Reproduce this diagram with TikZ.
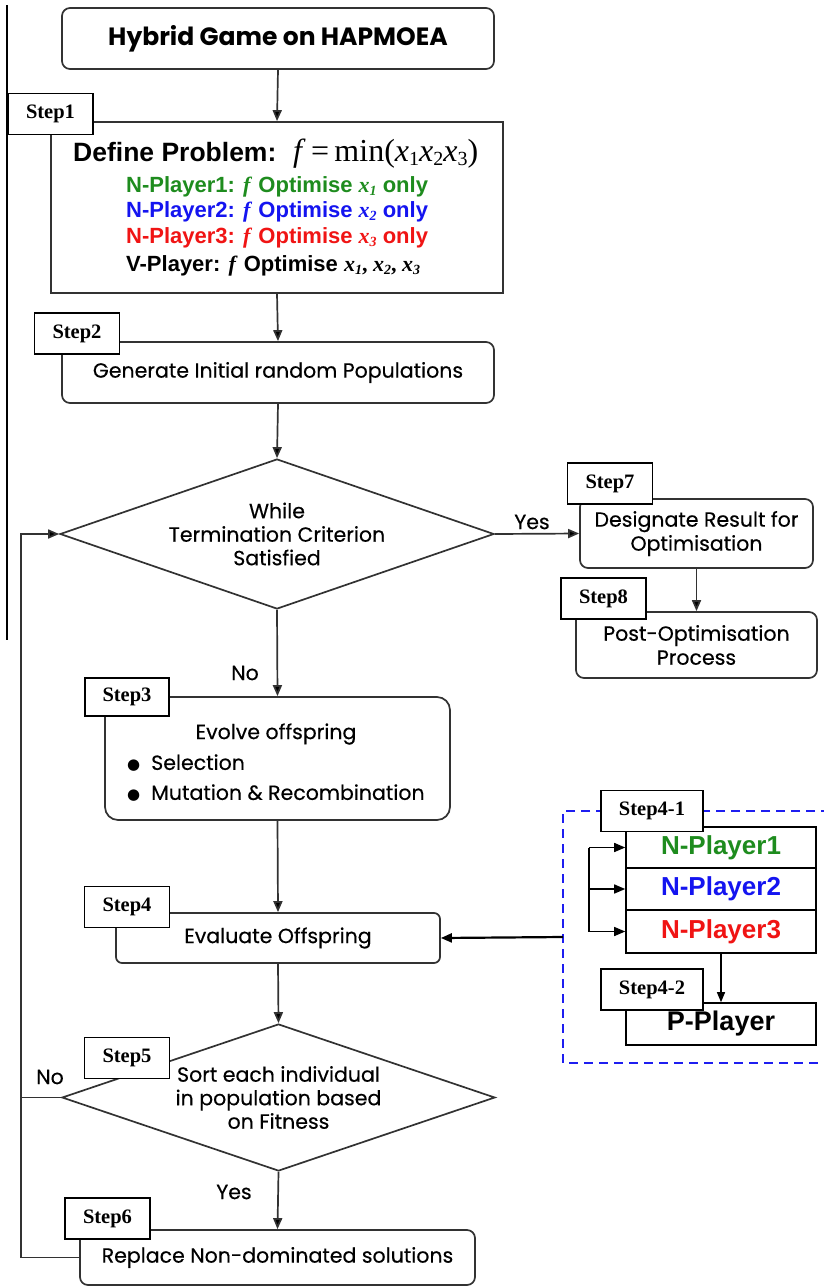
\documentclass[tikz,border=0pt]{standalone}
\usepackage{fontspec}
\setmainfont{Liberation Serif}
\newfontfamily\goth[FakeBold=0.35]{Poppins}
\newfontfamily\gothb{Poppins}
\newfontfamily\arialf{Liberation Sans}
\newfontfamily\djv{DejaVu Sans}
\usetikzlibrary{arrows.meta,shapes.geometric}
\definecolor{lc}{RGB}{50,50,50}
\definecolor{pgreen}{RGB}{30,140,30}
\definecolor{pblue}{RGB}{20,20,240}
\definecolor{pred}{RGB}{240,20,20}
\newcommand{\fsz}[1]{\fontsize{#1}{#1}\selectfont}
\newcommand{\vx}[2]{\textit{x}\raisebox{-0.3ex}{\fontsize{#2}{#2}\selectfont #1}}
\newcommand{\vxi}[2]{\textit{x}\raisebox{-0.3ex}{\fontsize{#2}{#2}\selectfont\textit{#1}}}
\begin{document}
\begin{tikzpicture}[x=1pt,y=-1pt,
  flow/.style={draw=lc, line width=1.7pt, rounded corners=8pt, fill=white, inner sep=0pt, align=center, font=\goth\fontsize{20.5}{24}\selectfont},
  sharp/.style={draw=lc, line width=1.7pt, fill=white, inner sep=0pt},
  steplbl/.style={draw=black, line width=1.4pt, fill=white, inner sep=0pt, minimum width=85pt, minimum height=41pt, font=\bfseries\fsz{20.5}},
  dia/.style={draw=lc, line width=1.7pt, shape=diamond, inner sep=0pt, align=center, font=\goth\fontsize{20.5}{23.5}\selectfont},
  arr/.style={-{Triangle[length=11pt,width=9pt,fill=black]}, line width=1.7pt, draw=lc},
  plain/.style={line width=1.7pt, draw=lc},
  lbl/.style={font=\goth\fsz{20.5}, inner sep=0pt},
  nbox/.style={draw=black, line width=1.6pt, fill=white, inner sep=0pt, minimum width=190pt, font=\arialf\bfseries\fsz{26}},
  txt/.style={inner sep=0pt, anchor=base west}
]
\useasboundingbox (0,0) rectangle (824,1286);
% page border line
\coordinate (pbt) at (7,5);
\coordinate (pbb) at (7,640);
\draw[line width=1.4pt] (pbt) -- (pbb);

% title
\node[flow, minimum width=432pt, minimum height=61pt, font=\gothb\bfseries\fsz{25}] (title) at (278,38.5) {Hybrid Game on HAPMOEA};

% step1
\node[sharp, minimum width=452pt, minimum height=171pt] (s1box) at (277,207.5) {};
\node[steplbl] (s1lbl) at (50.5,114) {Step1};
\node[txt, font=\arialf\bfseries\fsz{26.5}] (defp) at (73,161) {Define Problem:};
\node[txt, font=\fsz{32}] (fmin) at (293,161) {\textit{f}\,=\,min(\vx{1}{20}\vx{2}{20}\vx{3}{20})};
\node[txt, font=\arialf\bfseries\fsz{22}, text=pgreen] (l1) at (126,192) {N-Player1: \textit{\fontspec{Liberation Serif}f} Optimise {\fontspec{Liberation Serif}\vxi{1}{14}} only};
\node[txt, font=\arialf\bfseries\fsz{22}, text=pblue] (l2) at (126,217) {N-Player2: \textit{\fontspec{Liberation Serif}f} Optimise {\fontspec{Liberation Serif}\vxi{2}{14}} only};
\node[txt, font=\arialf\bfseries\fsz{22}, text=pred] (l3) at (126,243) {N-Player3: \textit{\fontspec{Liberation Serif}f} Optimise {\fontspec{Liberation Serif}\vxi{3}{14}} only};
\node[txt, font=\arialf\bfseries\fsz{22}, text=black] (l4) at (126,271) {V-Player: \textit{\fontspec{Liberation Serif}f} Optimise {\fontspec{Liberation Serif}\vxi{1}{14}, \vxi{2}{14}, \vxi{3}{14}}};

% step2
\node[flow, minimum width=432pt, minimum height=61pt] (s2box) at (278,372.5) {Generate Initial random Populations};
\node[steplbl] (s2lbl) at (77,333.5) {Step2};

% decision 1
\node[dia, minimum width=434pt, minimum height=150pt, aspect=2.9] (d1) at (277,534) {While\\Termination Criterion\\Satisfied};

% step7, step8
\node[flow, minimum width=233pt, minimum height=69pt] (s7box) at (696.5,533.5) {Designate Result for\\Optimisation};
\node[steplbl] (s7lbl) at (610,483.5) {Step7};
\node[flow, minimum width=241pt, minimum height=66pt] (s8box) at (696.5,645) {Post-Optimisation\\Process};
\node[steplbl] (s8lbl) at (603.5,598.5) {Step8};

% step3
\node[flow, rounded corners=13pt, minimum width=345pt, minimum height=123pt] (s3box) at (277.5,758.5) {};
\node[steplbl, minimum width=84pt, minimum height=38pt] (s3lbl) at (127,697) {Step3};
\node[lbl] (evo) at (276,734) {Evolve offspring};
\node[lbl, anchor=west] (sel) at (127,763) {{\djv\fsz{15}●}\ \ Selection};
\node[lbl, anchor=west] (mut) at (127,793) {{\djv\fsz{15}●}\ \ Mutation \& Recombination};

% step4
\node[flow, rounded corners=6pt, minimum width=324pt, minimum height=50pt] (s4box) at (278,938) {Evaluate Offspring};
\node[steplbl] (s4lbl) at (127,907) {Step4};

% panel
\coordinate (ptr) at (830,811);
\coordinate (ptl) at (563,811);
\coordinate (pbl) at (563,1063);
\coordinate (pbr) at (830,1063);
\coordinate (pl) at (563,937);
\draw[draw={rgb,255:red,30;green,30;blue,240}, line width=2.2pt, dash pattern=on 9pt off 6pt] (ptr) -- (ptl) -- (pbl) -- (pbr);
\node[nbox, minimum height=41pt, text=pgreen] (np1) at (721,847.5) {N-Player1};
\node[nbox, minimum height=42pt, text=pblue] (np2) at (721,889) {N-Player2};
\node[nbox, minimum height=43pt, text=pred] (np3) at (721,931.5) {N-Player3};
\node[steplbl, minimum width=102pt] (s41lbl) at (652,811) {Step4-1};
\node[nbox, minimum height=42pt, text=black, font=\arialf\bfseries\fsz{27}] (pp) at (721,1024) {P-Player};
\node[steplbl, minimum width=102pt] (s42lbl) at (652,989.5) {Step4-2};
\coordinate (bt) at (589,847.5);
\coordinate (bm) at (589,889);
\coordinate (bb) at (589,931.5);
\draw[plain, line width=1.5pt, draw=black] (bt) -- (bb);
\draw[arr, line width=1.5pt, draw=black] (bt) -- (np1.west);
\draw[arr, line width=1.5pt, draw=black] (bm) -- (np2.west);
\draw[arr, line width=1.5pt, draw=black] (bb) -- (np3.west);
\draw[arr, line width=1.3pt, draw=black, -{Triangle[length=10pt,width=8pt]}] (np3.south) -- (pp.north);
\draw[arr, line width=2.2pt, draw=black] (pl) -- (s4box.east);

% decision 2
\node[dia, minimum width=433pt, minimum height=147pt, aspect=2.95] (d2) at (278.5,1097.5) {Sort each individual\\in population based\\on Fitness};
\node[steplbl] (s5lbl) at (127,1058) {Step5};

% step6
\node[flow, minimum width=395pt, minimum height=55pt] (s6box) at (277.5,1257.5) {Replace Non-dominated solutions};
\node[steplbl] (s6lbl) at (107.5,1218.5) {Step6};

% labels
\node[lbl] (yes1) at (532,522) {Yes};
\node[lbl] (no1) at (245,673) {No};
\node[lbl] (no2) at (50,1077) {No};
\node[lbl] (yes2) at (234,1192) {Yes};

% connectors
\draw[arr] (title.south) -- (s1box.north);
\draw[arr] (s1box.south) -- (s2box.north);
\draw[arr] (s2box.south) -- (d1.north);
\draw[arr] (d1.east) -- (s7box.west);
\draw[arr] (s7box.south) -- (s8box.north);
\draw[arr] (d1.south) -- (s3box.north);
\draw[arr] (s3box.south) -- (s4box.north);
\draw[arr] (s4box.south) -- (d2.north);
\draw[arr] (d2.south) -- (s6box.north);
\coordinate (lb) at (21,1257.5);
\coordinate (lm) at (21,1097.5);
\coordinate (lt) at (21,534);
\draw[plain] (d2.west) -- (lm);
\draw[arr] (s6box.west) -- (lb) -- (lt) -- (d1.west);
\end{tikzpicture}
\end{document}
